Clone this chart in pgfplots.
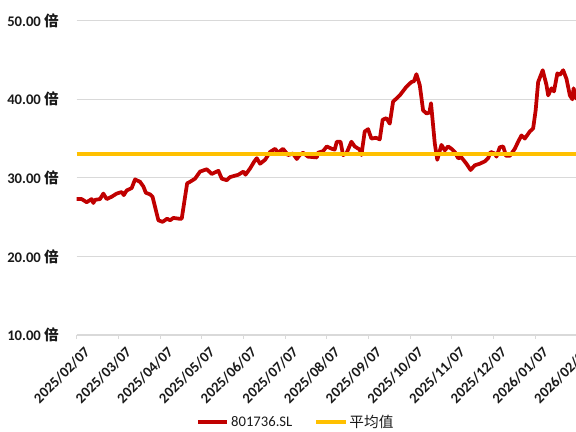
\documentclass[border=0pt]{standalone}
\usepackage{pgfplots}
\pgfplotsset{compat=1.18}
\usepackage{fontspec}
\setmainfont{Carlito}
\newfontfamily\cjk{Noto Sans CJK SC}

\definecolor{pered}{HTML}{C00000}
\definecolor{avgyellow}{HTML}{FFC000}
\definecolor{gridgray}{HTML}{D9D9D9}
\definecolor{txt}{HTML}{1A1A1A}

\begin{document}
\begin{tikzpicture}
\begin{axis}[
  scale only axis,
  width=375.2pt, height=235.7pt,
  at={(0pt,0pt)}, anchor=south west,
  xmin=0, xmax=12,
  ymin=10, ymax=50,
  axis x line*=bottom, axis y line*=left,
  y axis line style={draw=none},
  x axis line style={gridgray, line width=0.8pt},
  ytick={10,20,30,40,50},
  yticklabels={{10.00 {\cjk 倍}},{20.00 {\cjk 倍}},{30.00 {\cjk 倍}},{40.00 {\cjk 倍}},{50.00 {\cjk 倍}}},
  ytick style={draw=none},
  ymajorgrids, grid style={gridgray, line width=0.8pt},
  yticklabel style={font=\fontsize{11}{13}\selectfont\bfseries, text=txt, xshift=-6.8pt},
  xtick={0,...,12},
  xticklabels={2025/02/07,2025/03/07,2025/04/07,2025/05/07,2025/06/07,2025/07/07,2025/08/07,2025/09/07,2025/10/07,2025/11/07,2025/12/07,2026/01/07,2026/02/07},
  xticklabel style={font=\fontsize{11}{13}\selectfont\bfseries, text=txt, rotate=45, anchor=north east, inner sep=1pt, yshift=-6pt, xshift=1pt},
  tick align=outside,
  xtick style={gridgray, line width=0.8pt},
  major tick length=3pt,
  legend style={draw=none, fill=none, at={(0.438,-0.277)}, anchor=center,
    legend columns=-1, font=\fontsize{11}{13}\selectfont, text=txt,
    /tikz/every even column/.append style={column sep=15pt},
    nodes={inner sep=1.5pt}},
  legend image code/.code={\draw[#1] (0pt,0pt) -- (22pt,0pt);},
]
\addplot[pered, line width=2.8pt, line join=round] coordinates {
(0.00,27.3) (0.12,27.3) (0.24,26.9) (0.36,27.3) (0.40,26.8) (0.44,27.2)
(0.56,27.3) (0.64,28.0) (0.72,27.3) (0.84,27.6) (0.96,28.0) (1.08,28.2)
(1.13,27.8) (1.20,28.4) (1.32,28.7) (1.40,29.8) (1.52,29.5) (1.60,28.9)
(1.66,28.1) (1.76,27.9) (1.82,27.6) (1.96,24.6) (2.06,24.4) (2.17,24.8)
(2.24,24.6) (2.32,24.9) (2.46,24.8) (2.52,24.8) (2.65,29.3) (2.72,29.5)
(2.84,29.9) (2.96,30.8) (3.12,31.1) (3.24,30.5) (3.40,30.9) (3.48,29.9)
(3.60,29.7) (3.68,30.1) (3.88,30.4) (4.00,30.8) (4.05,30.4) (4.16,31.2)
(4.25,32.0) (4.32,32.5) (4.40,31.8) (4.52,32.3) (4.64,33.3) (4.76,33.7)
(4.83,33.2) (4.95,33.7) (5.07,32.9) (5.19,33.1) (5.28,32.4) (5.35,32.9)
(5.43,33.2) (5.55,32.7) (5.76,32.6) (5.79,33.2) (5.91,33.4) (6.00,34.0)
(6.12,33.7) (6.19,33.6) (6.24,34.6) (6.33,34.6) (6.39,32.9) (6.47,33.1)
(6.59,34.6) (6.67,34.0) (6.79,33.6) (6.83,32.9) (6.91,35.9) (6.99,36.2)
(7.07,35.0) (7.18,35.1) (7.27,34.9) (7.34,37.4) (7.43,37.6) (7.51,36.9)
(7.59,39.7) (7.75,40.5) (7.91,41.6) (8.03,42.2) (8.09,42.3) (8.15,43.2)
(8.23,41.8) (8.31,38.6) (8.39,38.2) (8.46,38.3) (8.50,39.5) (8.59,34.4)
(8.65,32.3) (8.75,34.2) (8.83,33.5) (8.91,34.0) (8.99,33.7) (9.07,33.3)
(9.15,32.5) (9.23,32.6) (9.35,31.8) (9.45,31.0) (9.55,31.6) (9.67,31.8)
(9.79,32.1) (9.87,32.5) (9.93,33.3) (10.03,33.1) (10.07,32.7) (10.15,33.9)
(10.23,34.0) (10.30,32.8) (10.39,32.8) (10.51,33.7) (10.59,34.6) (10.67,35.4)
(10.75,35.0) (10.87,35.9) (10.95,36.3) (11.01,38.6) (11.07,42.2) (11.18,43.7)
(11.27,41.8) (11.31,40.5) (11.39,41.4) (11.45,41.0) (11.53,43.3) (11.59,43.1)
(11.67,43.7) (11.75,42.6) (11.83,40.5) (11.89,40.0) (11.92,41.4) (11.97,40.3)
(12.00,40.0)
};
\addlegendentry{801736.SL}
\addplot[avgyellow, line width=2.8pt] coordinates {(0,33.0) (12,33.0)};
\addlegendentry{{\cjk 平均值}}
\end{axis}
\pgfresetboundingbox
\useasboundingbox (-57.5pt,-72.75pt) rectangle (374.5pt,251.25pt);
\end{tikzpicture}
\end{document}
